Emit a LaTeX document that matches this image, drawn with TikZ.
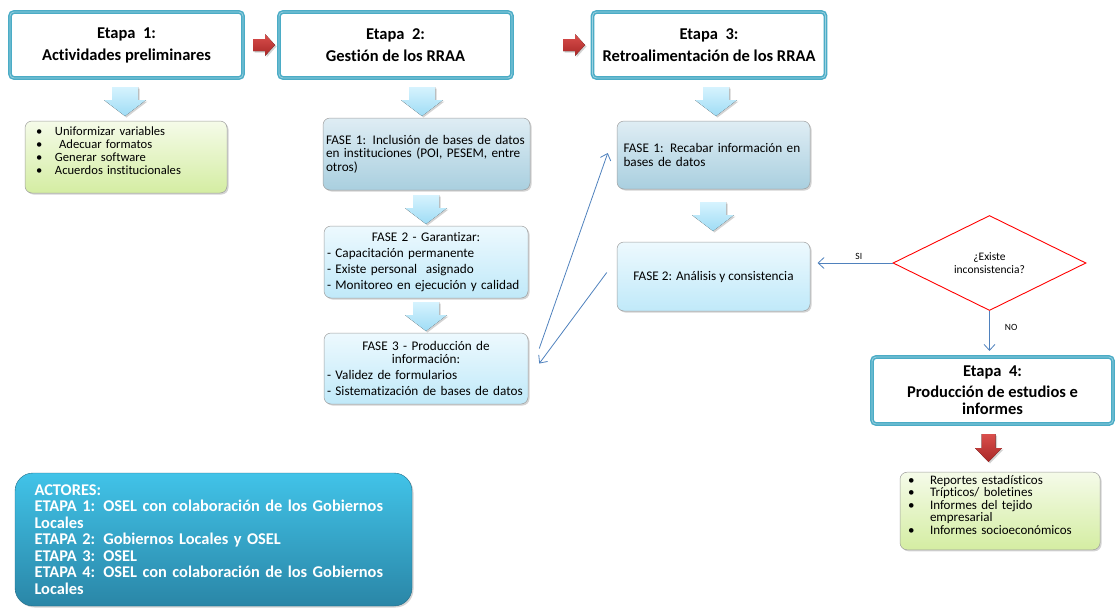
\documentclass[tikz,border=0pt]{standalone}
\usepackage{fontspec}
\setmainfont{Carlito}[Ligatures=NoCommon]
\usetikzlibrary{calc,shapes.geometric,shadows,arrows.meta}

\definecolor{etapaBorde}{HTML}{4BACC6}
\definecolor{grisArriba}{HTML}{DFEDF4}
\definecolor{grisAbajo}{HTML}{A9CFDF}
\definecolor{celesteArriba}{HTML}{EDF9FE}
\definecolor{celesteAbajo}{HTML}{C0E9F9}
\definecolor{verdeArriba}{HTML}{F5FBE9}
\definecolor{verdeAbajo}{HTML}{D4EDA2}
\definecolor{actoresArriba}{HTML}{41C3E8}
\definecolor{actoresAbajo}{HTML}{2A86A7}
\definecolor{conectorAzul}{HTML}{4F81BD}
\definecolor{rojoArriba}{HTML}{DA4F4C}
\definecolor{rojoAbajo}{HTML}{A82727}
\definecolor{flechaArriba}{HTML}{D6F3FE}
\definecolor{flechaAbajoC}{HTML}{9FDCF5}

\newcommand{\vineta}[2][19pt]{\makebox[#1][l]{\textbullet}#2}
\newcommand{\flechaAbajo}[1]{\fill[flechaCeleste, shift={(#1)}] (-13,0) -- (13,0) -- (13,13) -- (21,13) -- (0,29) -- (-21,13) -- (-13,13) -- cycle;}
\newcommand{\flechaDerecha}[1]{\fill[flechaRoja, shift={(#1)}] (0,-6) -- (12,-6) -- (12,-11) -- (22,0) -- (12,11) -- (12,6) -- (0,6) -- cycle;}
\newcommand{\flechaRojaAbajo}[1]{\fill[flechaRoja, shift={(#1)}] (-7,0) -- (7,0) -- (7,14) -- (13.5,14) -- (0,28) -- (-13.5,14) -- (-7,14) -- cycle;}

\tikzset{
  sombra/.style={drop shadow={opacity=0.35, shadow xshift=1.5pt, shadow yshift=-1.5pt}},
  etapa/.style={rectangle, rounded corners=4pt, draw=etapaBorde, line width=1.5pt,
    double=etapaBorde!55, double distance=0.8pt, fill=white, align=center,
    font=\fontsize{16.5}{17}\selectfont\bfseries, minimum width=233pt, minimum height=66pt, inner sep=2pt},
  fase/.style={rectangle, rounded corners=7pt, draw=gray!75, line width=0.5pt, sombra,
    font=\fontsize{13.2}{13.5}\selectfont, minimum height=72pt, inner sep=3pt},
  faseGris/.style={fase, top color=grisArriba, bottom color=grisAbajo},
  faseCeleste/.style={fase, top color=celesteArriba, bottom color=celesteAbajo},
  lista/.style={fase, top color=verdeArriba, bottom color=verdeAbajo, align=left,
    font=\fontsize{12.6}{13}\selectfont},
  actores/.style={rectangle, rounded corners=18pt, draw=actoresAbajo!80!black, line width=0.4pt,
    top color=actoresArriba, bottom color=actoresAbajo, sombra, text=white, align=left,
    font=\fontsize{16.4}{16.5}\selectfont\bfseries},
  rombo/.style={diamond, draw=red, line width=0.9pt, inner sep=0pt, align=center,
    minimum width=193pt, minimum height=95pt, font=\fontsize{11.5}{12.5}\selectfont},
  etiqueta/.style={font=\fontsize{9.5}{10}\selectfont, inner sep=1pt},
  conector/.style={draw=conectorAzul, line width=0.8pt, -{Straight Barb[length=6pt,width=11pt]}},
  flechaCeleste/.style={top color=flechaArriba, bottom color=flechaAbajoC, sombra},
  flechaRoja/.style={top color=rojoArriba, bottom color=rojoAbajo, sombra}
}

\begin{document}
\begin{tikzpicture}[x=1pt, y=-1pt]
\useasboundingbox (0,0) rectangle (1117,608);

% etapas
\node[etapa] (e1) at (126.5,45) {Etapa~~1:\\[5pt] Actividades preliminares};
\node[etapa] (e2) at (395.5,45) {Etapa~~2:\\[5pt] Gestión de los RRAA};
\node[etapa] (e3) at (709,45) {Etapa~~3:\\[5pt] Retroalimentación de los RRAA};
\node[etapa, minimum width=241pt, minimum height=67pt] (e4) at (992.5,390.5) {Etapa~~4:\\[4pt] Producción de estudios e\\ informes};

\flechaDerecha{253,45}
\flechaDerecha{563,45}

% etapa 1
\flechaAbajo{125,87}
\node[lista, minimum width=202pt, text width=180pt] (l1) at (126,157)
  {\vineta{Uniformizar variables}\\ \vineta{\ Adecuar formatos}\\ \vineta{Generar software}\\ \vineta{Acuerdos institucionales}\\ \mbox{}};

% etapa 2
\flechaAbajo{422,87}
\node[faseGris, minimum width=207pt, text width=201pt, align=left] (f21) at (426.5,154)
  {FASE 1: Inclusión de bases de datos\\ en instituciones (POI, PESEM, entre\\ otros)};
\flechaAbajo{426,195}
\node[faseCeleste, minimum width=204pt, text width=198pt, align=left] (f22) at (426,262)
  {\makebox[\linewidth]{FASE 2 - Garantizar:}\\[2.5pt] - Capacitación permanente\\[2.5pt] - Existe personal~ asignado\\[2.5pt] - Monitoreo en ejecución y calidad};
\flechaAbajo{426,302}
\node[faseCeleste, minimum width=204pt, minimum height=71pt, text width=198pt, align=left] (f23) at (426,368.5)
  {\makebox[\linewidth]{FASE 3 - Producción de}\\ \makebox[\linewidth]{información:}\\[2.5pt] - Validez de formularios\\[2.5pt] - Sistematización de bases de datos};

% etapa 3
\flechaAbajo{716,87}
\node[faseGris, minimum width=193pt, minimum height=68pt, text width=180pt, align=left] (f31) at (713.5,155)
  {\makebox[180pt][s]{FASE 1: Recabar información en}\\ bases de datos};
\flechaAbajo{713,202}
\node[faseCeleste, minimum width=193pt, minimum height=69pt] (f32) at (713.5,276.5)
  {FASE 2: Análisis y consistencia};

\node[rombo] (dec) at (989.5,263) {¿Existe\\ inconsistencia?};

\draw[conector] ($(f23.east)+(11,-20)$) -- ($(f31.west)+(-9,-2)$);
\draw[conector] ($(f32.west)+(-10,-4)$) -- ($(f23.east)+(11,-5)$);
\draw[conector] (dec.west) -- ++(-75,0) node[pos=0.45, above=2pt, etiqueta] {SI};
\draw[conector] (dec.south) -- ++(0,40) node[pos=0.4, right=14pt, etiqueta] {NO};

% etapa 4
\flechaRojaAbajo{988.5,434}
\node[lista, minimum width=200pt, text width=184pt, font=\fontsize{13}{12.5}\selectfont] (l4) at (1000,511)
  {\vineta[22pt]{Reportes estadísticos}\\ \vineta[22pt]{Trípticos/ boletines}\\ \vineta[22pt]{Informes del tejido}\\ \hspace*{22pt}empresarial\\ \vineta[22pt]{Informes socioeconómicos}\\ \mbox{}};

% actores
\node[actores, minimum width=397pt, minimum height=133pt, text width=358pt] (act) at (213.5,539.5)
  {ACTORES:\\ ETAPA 1: OSEL con colaboración de los Gobiernos\\ Locales\\ ETAPA 2: Gobiernos Locales y OSEL\\ ETAPA 3: OSEL\\ ETAPA 4: OSEL con colaboración de los Gobiernos\\ Locales};
\end{tikzpicture}
\end{document}
